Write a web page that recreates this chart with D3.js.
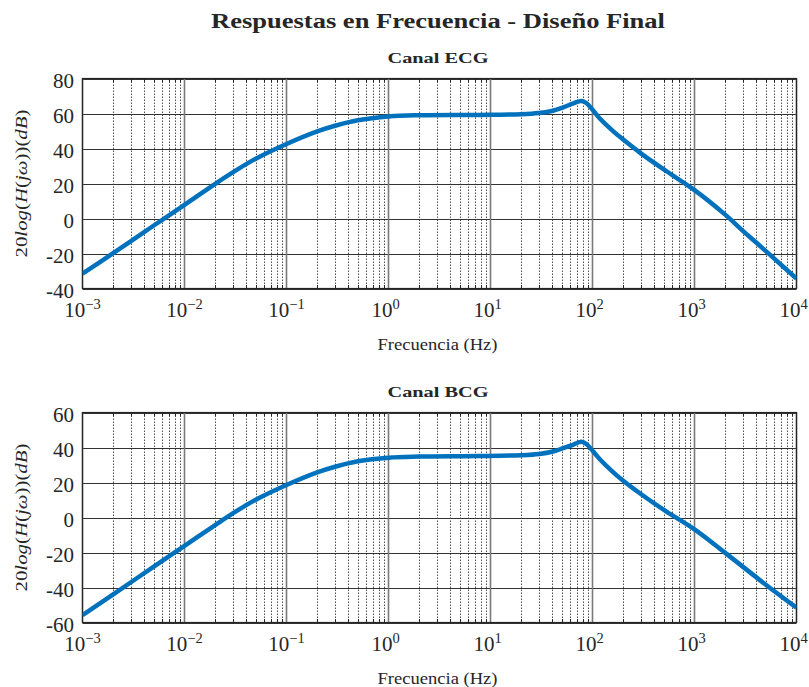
<!DOCTYPE html>
<html>
<head>
<meta charset="utf-8">
<script src="https://cdn.jsdelivr.net/npm/d3@7"></script>
<style>
  body { margin: 0; background: #fff; }
  svg { display: block; }
  text { font-family: "Liberation Serif", "DejaVu Serif", serif; fill: #262626; }
</style>
</head>
<body>
<div class="vis-bode"></div>
<script>
// frequency samples (Hz) and magnitude (dB)
const freqECG = [0.001, 0.002, 0.005, 0.01, 0.02, 0.03, 0.05, 0.1, 0.2, 0.3, 0.5, 1, 2, 8, 20, 30, 41, 51, 65, 78, 87, 101, 118, 160, 200, 300, 531, 1000, 2000, 3000, 4000, 6400, 10000];
const magECG = [-31.5, -19.8, -4, 7.8, 19.8, 26.5, 34.2, 42.6, 49.8, 53, 56.1, 58.3, 59, 59.2, 59.6, 60.3, 61.6, 63.4, 65.8, 67.2, 66, 61.9, 57.1, 49.8, 45.1, 37.1, 27, 16.2, 2.2, -7.2, -13.6, -24.2, -34.3];

const freqBCG = [0.001, 0.002, 0.005, 0.01, 0.02, 0.03, 0.05, 0.1, 0.2, 0.3, 0.5, 1, 2, 8, 20, 30, 41, 51, 65, 78, 87, 101, 118, 160, 200, 300, 531, 1000, 2000, 5000, 10000];
const magBCG = [-55.8, -43.9, -28.1, -16.2, -4.3, 2.5, 10.2, 18.6, 25.8, 29, 32.1, 34.2, 34.8, 35.1, 35.6, 36.3, 37.7, 39.5, 41.7, 43.3, 42, 37.9, 33.3, 25.8, 21, 13.3, 3.4, -6.8, -20.2, -38.4, -51.5];

const xDecades = [-3, -2, -1, 0, 1, 2, 3, 4];
const yTicksECG = [-40, -20, 0, 20, 40, 60, 80];
const yTicksBCG = [-60, -40, -20, 0, 20, 40, 60];

const panels = [
  { title: 'Canal ECG', freq: freqECG, mag: magECG, ticks: yTicksECG, top: 78.5 },
  { title: 'Canal BCG', freq: freqBCG, mag: magBCG, ticks: yTicksBCG, top: 412.5 }
];

const W = 809, H = 687;
const left = 82.5, right = 796.5, ph = 210;

const svg = d3.select('.vis-bode').append('svg').attr('width', W).attr('height', H);

svg.append('text')
  .attr('x', 438).attr('y', 28)
  .attr('text-anchor', 'middle')
  .attr('textLength', 454).attr('lengthAdjust', 'spacingAndGlyphs')
  .style('font-size', '20px').style('font-weight', 'bold')
  .text('Respuestas en Frecuencia - Diseño Final');

const x = d3.scaleLog().domain([1e-3, 1e4]).range([left, right]);

// minor tick values 2..9 per decade
let minors = [];
xDecades.slice(0, -1).forEach((k) => {
  for (let m = 2; m <= 9; m++) minors.push(m * Math.pow(10, k));
});

panels.forEach((p, pi) => {
  const bottom = p.top + ph;
  const y = d3.scaleLinear().domain([p.ticks[0], p.ticks[p.ticks.length - 1]]).range([bottom, p.top]);
  const g = svg.append('g');

  g.append('clipPath').attr('id', 'clip' + pi)
    .append('rect').attr('x', left).attr('y', p.top).attr('width', right - left).attr('height', ph);

  // minor vertical grid (dotted)
  g.selectAll('.minor')
    .data(minors)
    .enter()
    .append('line')
    .attr('x1', (d) => Math.round(x(d)) + 0.5).attr('x2', (d) => Math.round(x(d)) + 0.5)
    .attr('y1', p.top).attr('y2', bottom)
    .attr('stroke', '#222').attr('stroke-width', 0.8)
    .attr('stroke-dasharray', '1.5,1.5');

  // horizontal grid
  g.selectAll('.hgrid')
    .data(p.ticks)
    .enter()
    .append('line')
    .attr('x1', left).attr('x2', right)
    .attr('y1', (d) => Math.round(y(d)) + 0.5).attr('y2', (d) => Math.round(y(d)) + 0.5)
    .attr('stroke', '#333').attr('stroke-width', 1);

  // major vertical grid
  g.selectAll('.vgrid')
    .data(xDecades)
    .enter()
    .append('line')
    .attr('x1', (d) => x(Math.pow(10, d))).attr('x2', (d) => x(Math.pow(10, d)))
    .attr('y1', p.top).attr('y2', bottom)
    .attr('stroke', '#7a7a7a').attr('stroke-width', 1.6);

  // tick marks
  g.selectAll('.mt')
    .data(minors)
    .enter()
    .append('path')
    .attr('d', (d) => {
      const xx = Math.round(x(d)) + 0.5;
      return 'M' + xx + ',' + bottom + 'v-3.5M' + xx + ',' + p.top + 'v3.5';
    })
    .attr('stroke', '#262626').attr('stroke-width', 1);

  // axes box
  g.append('rect')
    .attr('x', left).attr('y', p.top).attr('width', right - left).attr('height', ph)
    .attr('fill', 'none').attr('stroke', '#262626').attr('stroke-width', 1.2);

  // curve
  const line = d3.line()
    .x((d) => x(d[0]))
    .y((d) => y(d[1]))
    .curve(d3.curveCatmullRom.alpha(0.5));

  g.append('path')
    .datum(p.freq.map((f, i) => [f, p.mag[i]]))
    .attr('clip-path', 'url(#clip' + pi + ')')
    .attr('d', line)
    .attr('fill', 'none')
    .attr('stroke', '#0072BD')
    .attr('stroke-width', 4.5)
    .attr('stroke-linejoin', 'round');

  // y tick labels
  g.selectAll('.yl')
    .data(p.ticks)
    .enter()
    .append('text')
    .attr('x', 74).attr('y', (d) => y(d) + 9)
    .attr('text-anchor', 'end')
    .style('font-size', '21px')
    .text((d) => d);

  // x tick labels 10^k
  const xl = g.selectAll('.xl')
    .data(xDecades)
    .enter()
    .append('text')
    .attr('x', (d) => x(Math.pow(10, d)) + (d < 0 ? 0 : -3))
    .attr('y', bottom + 28)
    .attr('text-anchor', 'middle')
    .style('font-size', '21px');
  xl.append('tspan').text('10');
  xl.append('tspan')
    .attr('dy', -8)
    .style('font-size', '14.5px')
    .text((d) => (d < 0 ? '\u2212' + Math.abs(d) : d));

  // panel title
  g.append('text')
    .attr('x', 438).attr('y', p.top - 16)
    .attr('text-anchor', 'middle')
    .attr('textLength', 101).attr('lengthAdjust', 'spacingAndGlyphs')
    .style('font-size', '15.5px').style('font-weight', 'bold')
    .text(p.title);

  // x label
  g.append('text')
    .attr('x', 437.5).attr('y', bottom + 61)
    .attr('text-anchor', 'middle')
    .attr('textLength', 120).attr('lengthAdjust', 'spacingAndGlyphs')
    .style('font-size', '16px')
    .text('Frecuencia (Hz)');

  // y label
  const yl = g.append('text')
    .attr('transform', 'translate(27,' + (p.top + ph / 2) + ') rotate(-90)')
    .attr('text-anchor', 'middle')
    .attr('textLength', 148).attr('lengthAdjust', 'spacingAndGlyphs')
    .style('font-size', '17px');
  [['20', 0], ['log', 1], ['(', 0], ['H', 1], ['(', 0], ['j\u03c9', 1], ['))(', 0], ['dB', 1], [')', 0]].forEach((s) => {
    yl.append('tspan').style('font-style', s[1] ? 'italic' : 'normal').text(s[0]);
  });
});
</script>
</body>
</html>
